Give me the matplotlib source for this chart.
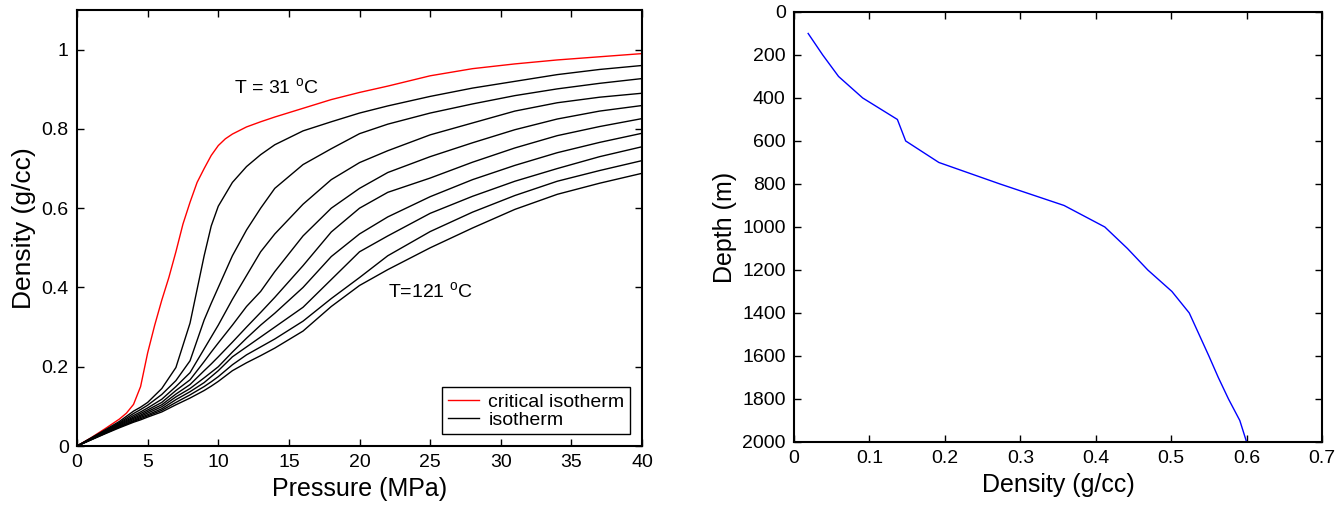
"""CO2 isotherms (density vs pressure) and density vs depth profile."""
import matplotlib
matplotlib.use("Agg")
import matplotlib.pyplot as plt
from matplotlib.ticker import FuncFormatter

plt.rcParams["font.family"] = ["Liberation Sans", "DejaVu Sans"]
plt.rcParams["mathtext.fontset"] = "custom"
plt.rcParams["mathtext.rm"] = "Liberation Sans"

# ---- data: critical isotherm (31 C), finer pressure grid (MPa) -> density (g/cc)
pressure_31 = [0, 1, 2, 3, 3.5, 4, 4.5, 5, 5.5, 6, 6.5, 7, 7.5, 8, 8.5, 9, 9.5, 10, 10.5,
               11, 12, 13, 14, 16, 18, 20, 22, 25, 28, 31, 34, 37, 40]
rho_31 = [0, 0.021, 0.044, 0.068, 0.083, 0.105, 0.15, 0.235, 0.305, 0.368, 0.425, 0.49,
          0.56, 0.615, 0.665, 0.70, 0.733, 0.758, 0.775, 0.787, 0.805, 0.818, 0.83, 0.852,
          0.874, 0.892, 0.908, 0.934, 0.952, 0.964, 0.974, 0.982, 0.99]

# ---- data: other isotherms (41..121 C), common pressure grid
pressure = [0, 2, 3, 4, 4.5, 5, 6, 7, 8, 9, 9.5, 10, 11, 12, 13, 14,
            16, 18, 20, 22, 25, 28, 31, 34, 37, 40]

rho_41 = [0, 0.041, 0.062, 0.088, 0.098, 0.11, 0.145, 0.198, 0.31, 0.48, 0.555, 0.605, 0.665,
          0.705, 0.735, 0.76, 0.795, 0.818, 0.84, 0.858, 0.882, 0.903, 0.92, 0.937, 0.95, 0.96]
rho_51 = [0, 0.039, 0.059, 0.082, 0.092, 0.103, 0.13, 0.165, 0.215, 0.318, 0.36, 0.40, 0.48,
          0.545, 0.60, 0.65, 0.71, 0.75, 0.788, 0.812, 0.84, 0.863, 0.884, 0.901, 0.915, 0.927]
rho_61 = [0, 0.037, 0.057, 0.077, 0.086, 0.096, 0.118, 0.150, 0.185, 0.245, 0.275, 0.305, 0.37,
          0.43, 0.49, 0.535, 0.61, 0.672, 0.715, 0.745, 0.785, 0.815, 0.845, 0.866, 0.88, 0.89]
rho_71 = [0, 0.036, 0.055, 0.073, 0.082, 0.091, 0.110, 0.140, 0.167, 0.213, 0.237, 0.26, 0.305,
          0.352, 0.39, 0.44, 0.53, 0.60, 0.65, 0.69, 0.73, 0.765, 0.798, 0.825, 0.845, 0.859]
rho_81 = [0, 0.035, 0.053, 0.070, 0.078, 0.087, 0.104, 0.131, 0.155, 0.19, 0.207, 0.225, 0.262,
          0.30, 0.337, 0.375, 0.455, 0.54, 0.60, 0.64, 0.676, 0.716, 0.752, 0.783, 0.806, 0.826]
rho_91 = [0, 0.034, 0.051, 0.067, 0.075, 0.083, 0.099, 0.124, 0.145, 0.172, 0.186, 0.20, 0.237,
          0.272, 0.305, 0.335, 0.40, 0.478, 0.535, 0.578, 0.629, 0.672, 0.708, 0.74, 0.766, 0.789]
rho_101 = [0, 0.033, 0.049, 0.064, 0.072, 0.079, 0.094, 0.117, 0.137, 0.16, 0.175, 0.19, 0.225,
           0.25, 0.275, 0.30, 0.35, 0.42, 0.49, 0.53, 0.587, 0.63, 0.668, 0.70, 0.73, 0.755]
rho_111 = [0, 0.032, 0.048, 0.062, 0.069, 0.076, 0.090, 0.110, 0.129, 0.15, 0.162, 0.175, 0.205,
           0.23, 0.25, 0.27, 0.315, 0.372, 0.425, 0.48, 0.541, 0.59, 0.632, 0.668, 0.695, 0.72]
rho_121 = [0, 0.031, 0.046, 0.060, 0.066, 0.073, 0.086, 0.104, 0.121, 0.14, 0.151, 0.163, 0.19,
           0.21, 0.228, 0.247, 0.29, 0.352, 0.405, 0.445, 0.50, 0.55, 0.597, 0.635, 0.663, 0.688]

isotherms = [rho_41, rho_51, rho_61, rho_71, rho_81, rho_91, rho_101, rho_111, rho_121]

# ---- data: density vs depth
depth = [100, 200, 300, 400, 500, 600, 700, 800, 900, 1000, 1100, 1200, 1300,
         1400, 1500, 1600, 1700, 1800, 1900, 2000]
density_profile = [0.0187, 0.038, 0.059, 0.091, 0.137, 0.148, 0.192, 0.273, 0.358, 0.412,
                   0.442, 0.469, 0.501, 0.524, 0.537, 0.550, 0.5625, 0.576, 0.591, 0.600]

TICK_FS = 14
LABEL_FS = 18


def style_axes(ax):
    for sp in ax.spines.values():
        sp.set_linewidth(1.5)
    ax.tick_params(direction="in", length=5, width=1, top=True, right=True,
                   labelsize=TICK_FS, pad=6)


fig = plt.figure(figsize=(13.42, 5.05), dpi=100)
ax1 = fig.add_axes([0.0574, 0.1168, 0.421, 0.8634])
ax2 = fig.add_axes([0.5917, 0.1248, 0.3934, 0.8515])

# left panel: isotherms
ax1.plot(pressure_31, rho_31, color="red", lw=1.0, label="critical isotherm")
for i, rho in enumerate(isotherms):
    ax1.plot(pressure, rho, color="black", lw=1.0, label="isotherm" if i == 0 else None)
ax1.set_xlim(0, 40)
ax1.set_ylim(0, 1.1)
ax1.set_xticks(range(0, 41, 5))
ax1.set_yticks([0, 0.2, 0.4, 0.6, 0.8, 1.0])
ax1.yaxis.set_major_formatter(FuncFormatter(lambda v, p: "%g" % round(v, 2)))
ax1.set_xlabel("Pressure (MPa)", fontsize=LABEL_FS)
ax1.set_ylabel("Density (g/cc)", fontsize=LABEL_FS + 1)
ax1.text(11.1, 0.905, r"T = 31 $^{\rm o}$C", fontsize=TICK_FS, va="center")
ax1.text(22.0, 0.39, r"T=121 $^{\rm o}$C", fontsize=TICK_FS, va="center")
leg = ax1.legend(loc="lower right", fontsize=TICK_FS, frameon=True, fancybox=False,
                 edgecolor="black", framealpha=1, handlelength=1.6, handletextpad=0.5,
                 labelspacing=0.0, borderpad=0.3, borderaxespad=0.6)
leg.get_frame().set_linewidth(1.0)
style_axes(ax1)

# right panel: density vs depth
ax2.plot(density_profile, depth, color="#0000ff", lw=1.0)
ax2.set_xlim(0, 0.7)
ax2.set_ylim(2000, 0)
ax2.set_xticks([0, 0.1, 0.2, 0.3, 0.4, 0.5, 0.6, 0.7])
ax2.xaxis.set_major_formatter(FuncFormatter(lambda v, p: "%g" % round(v, 2)))
ax2.set_yticks(range(0, 2001, 200))
ax2.set_xlabel("Density (g/cc)", fontsize=LABEL_FS)
ax2.set_ylabel("Depth (m)", fontsize=LABEL_FS)
style_axes(ax2)

fig.savefig("out.png", dpi=100)
